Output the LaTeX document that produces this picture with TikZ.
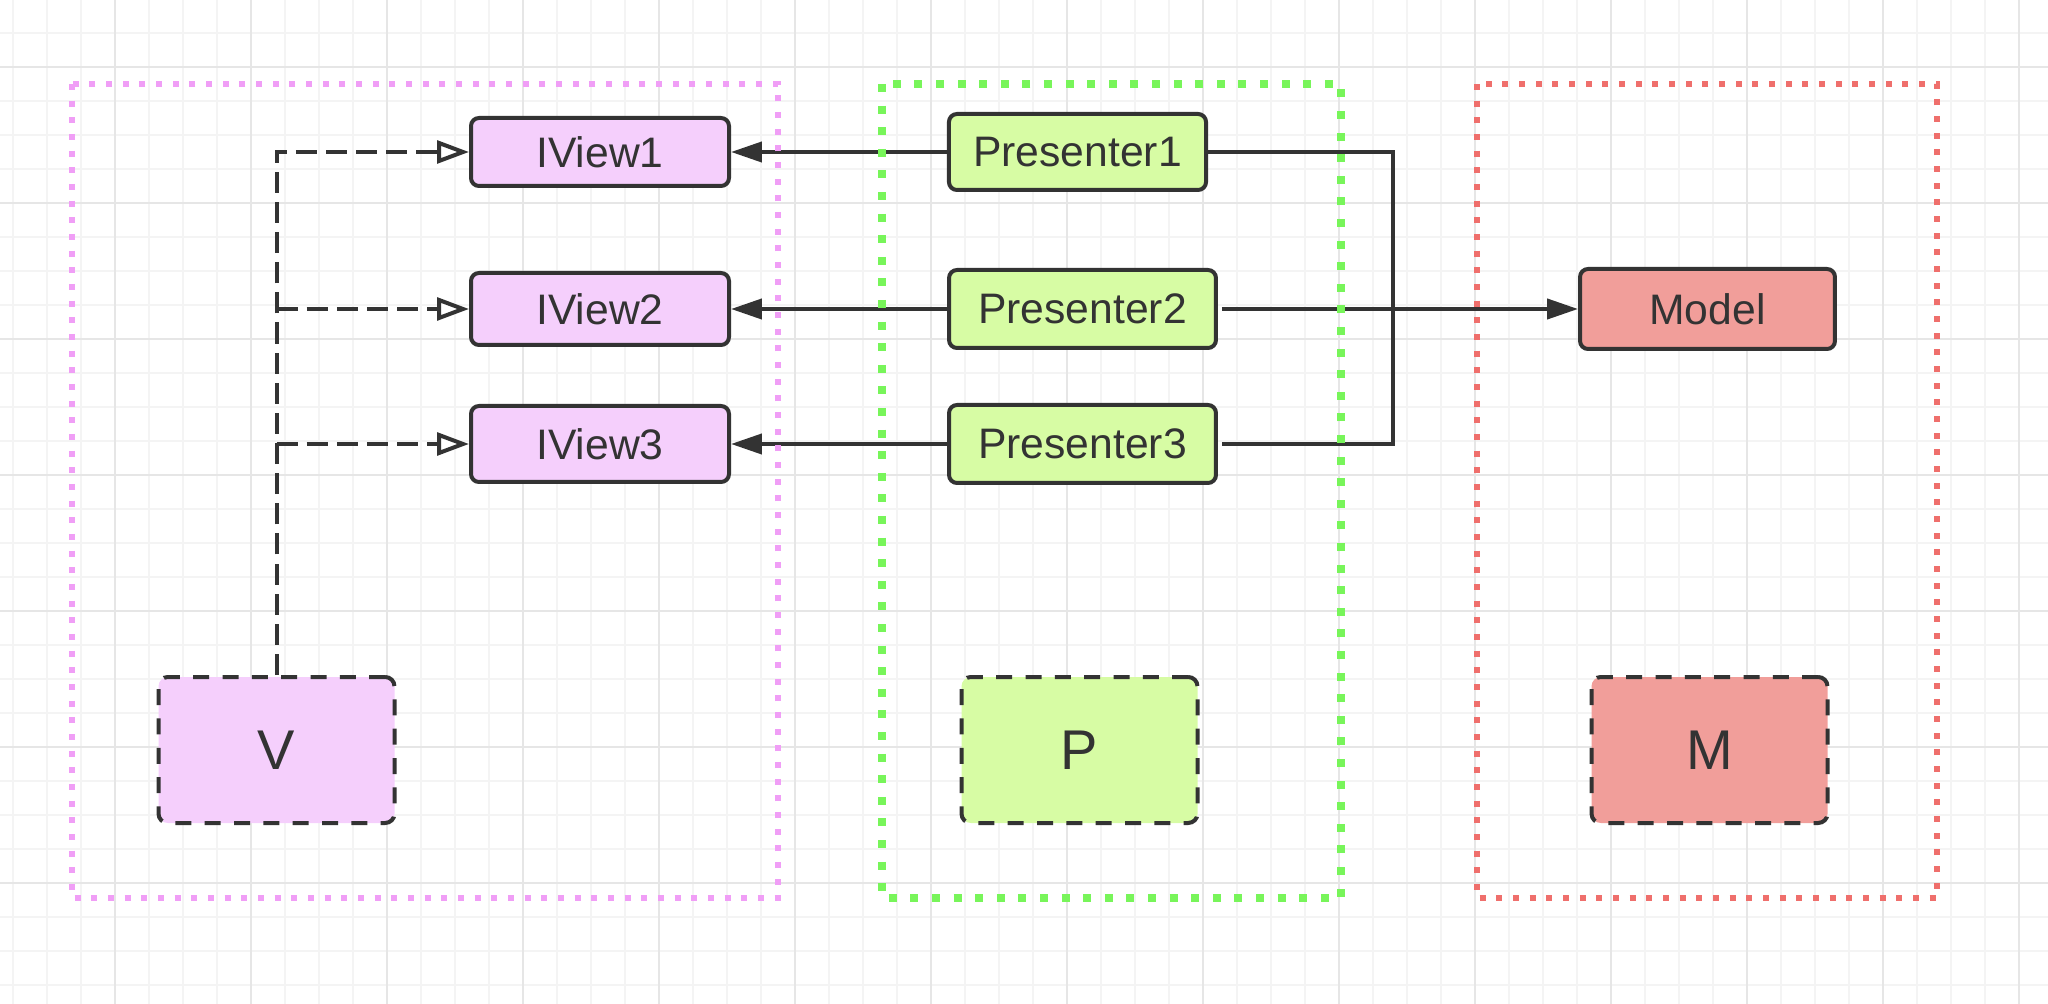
\documentclass[tikz,border=0pt]{standalone}
\usepackage{fontspec}
\setmainfont{Liberation Sans}
\usetikzlibrary{arrows.meta,backgrounds}
\definecolor{ink}{HTML}{333333}
\definecolor{vfill}{HTML}{F5CFFC}
\definecolor{pfill}{HTML}{D7FCA4}
\definecolor{mfill}{HTML}{F19E9A}
\definecolor{vline}{HTML}{F09EF6}
\definecolor{pline}{HTML}{78F55A}
\definecolor{mline}{HTML}{EF6F6C}
\definecolor{gridminor}{HTML}{F4F4F4}
\definecolor{gridmajor}{HTML}{E6E6E6}
\begin{document}
\begin{tikzpicture}[x=0.375pt,y=-0.375pt,
  box/.style={draw=ink,line width=1.5pt,rounded corners=3pt,text=ink,
    font=\fontsize{16}{19}\selectfont,inner sep=0pt},
  bigbox/.style={draw=ink,line width=1.5pt,rounded corners=3.5pt,text=ink,
    font=\fontsize{21}{25}\selectfont,inner sep=0pt,dash pattern=on 6pt off 5pt,
    minimum width=88.5pt,minimum height=54.75pt},
  conn/.style={draw=ink,line width=1.5pt},
  arr/.style={conn,-{Triangle[length=11.6pt,width=7.5pt]}},
  dconn/.style={conn,dash pattern=on 7.9pt off 3.4pt},
  darr/.style={dconn,-{Triangle[open,length=12pt,width=8.5pt,fill=white]}},
  container/.style={line width=2.25pt,dash pattern=on 2.25pt off 4pt}
]
\useasboundingbox (0,0) rectangle (2048,1004);

% nodes
\node[box,fill=vfill,minimum width=96.75pt,minimum height=25.5pt] (I1) at (600,152) {IView1};
\node[box,fill=vfill,minimum width=96.75pt,minimum height=27pt] (I2) at (600,309) {IView2};
\node[box,fill=vfill,minimum width=96.75pt,minimum height=28.5pt] (I3) at (600,444) {IView3};
\node[box,fill=pfill,minimum width=96.4pt,minimum height=28.5pt] (P1) at (1077.5,152) {Presenter1};
\node[box,fill=pfill,minimum width=100.1pt,minimum height=29.25pt] (P2) at (1082.5,309) {Presenter2};
\node[box,fill=pfill,minimum width=100.1pt,minimum height=29.25pt] (P3) at (1082.5,444) {Presenter3};
\node[box,fill=mfill,minimum width=95.6pt,minimum height=30pt] (Mo) at (1707.5,309) {Model};
\node[bigbox,fill=vfill] (V) at (276.5,750) {V};
\node[bigbox,fill=pfill] (P) at (1079.5,750) {P};
\node[bigbox,fill=mfill] (M) at (1709.5,750) {M};

\begin{scope}[on background layer]
  % grid
  \foreach \i in {0,...,60} {\draw[gridminor,line width=0.75pt] (13+34*\i,0) -- (13+34*\i,1004);}
  \foreach \i in {1,...,29} {\draw[gridminor,line width=0.75pt] (0,-1+34*\i) -- (2048,-1+34*\i);}
  \foreach \i in {0,...,14} {\draw[gridmajor,line width=1pt] (115+136*\i,0) -- (115+136*\i,1004);}
  \foreach \i in {0,...,6} {\draw[gridmajor,line width=1pt] (0,67+136*\i) -- (2048,67+136*\i);}
  % connectors
  \draw[arr] (P1.west) -- (I1.east);
  \draw[arr] (P2.west) -- (I2.east);
  \draw[arr] (P3.west) -- (I3.east);
  \coordinate (c1) at (1393,152);
  \draw[conn] (P1.east) -- (c1) -- (c1 |- P3.east) -- ([xshift=1.5pt]P3.east);
  \draw[arr,shorten <=1.5pt] (P2.east) -- (Mo.west);
  \coordinate (j1) at (V.north |- I1.west);
  \draw[darr] (V.north) -- (j1) -- (I1.west);
  \draw[darr] (V.north |- I2.west) -- (I2.west);
  \draw[darr] (V.north |- I3.west) -- (I3.west);
\end{scope}

% containers
\draw[container,vline] (72,84) rectangle (778,898);
\draw[container,pline,line width=3pt,dash pattern=on 3pt off 5.1pt] (882,84) rectangle (1341,898);
\draw[container,mline] (1477,84) rectangle (1937,898);
\end{tikzpicture}
\end{document}
